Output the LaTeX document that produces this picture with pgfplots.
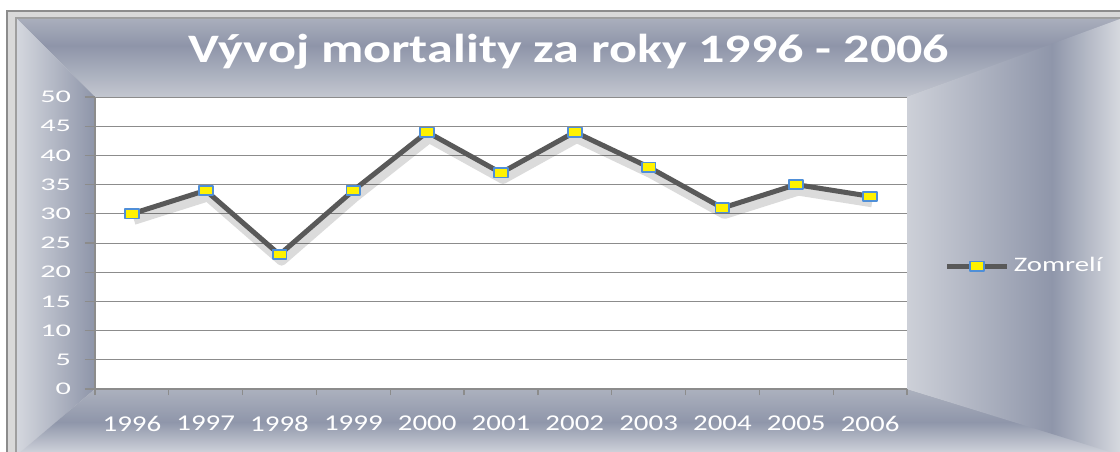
\documentclass[border=0pt]{standalone}
\usepackage{fontspec}
\setmainfont{Carlito}
\newfontfamily\titlefont{Carlito}[FakeStretch=1.29]
\newfontfamily\xfont{Carlito}[FakeStretch=1.28]
\newfontfamily\yfont{Carlito}[FakeStretch=1.7]
\newfontfamily\legfont{Carlito}[FakeStretch=1.4]
\usepackage{pgfplots}
\usepackage{pgfplotstable}
\pgfplotsset{compat=1.18}

\definecolor{linegray}{HTML}{595959}
\definecolor{markblue}{HTML}{4F8FD8}
\definecolor{gridgray}{HTML}{8C8C8C}
\definecolor{tb1}{HTML}{C3C7D0}
\definecolor{tb2}{HTML}{8E95A9}
\definecolor{tb3}{HTML}{A9AEBC}
\definecolor{lb1}{HTML}{D4D7DE}
\definecolor{lb2}{HTML}{8E95A9}
\definecolor{bb1}{HTML}{D4D7DE}
\definecolor{bb2}{HTML}{8F96AA}
\definecolor{bb3}{HTML}{ACB1BE}
\definecolor{rb1}{HTML}{CDD0D8}
\definecolor{rb2}{HTML}{8F96AA}
\definecolor{rb3}{HTML}{D6D9DF}

\pgfdeclareverticalshading{topband}{100bp}{color(0bp)=(tb1); color(25bp)=(tb1); color(58bp)=(tb2); color(75bp)=(tb3); color(100bp)=(tb3)}
\pgfdeclarehorizontalshading{leftband}{100bp}{color(0bp)=(lb1); color(25bp)=(lb1); color(75bp)=(lb2); color(100bp)=(lb2)}
\pgfdeclareverticalshading{bottomband}{100bp}{color(0bp)=(bb1); color(25bp)=(bb1); color(50bp)=(bb2); color(75bp)=(bb3); color(100bp)=(bb3)}
\pgfdeclarehorizontalshading{rightband}{100bp}{color(0bp)=(rb1); color(25bp)=(rb1); color(59bp)=(rb2); color(75bp)=(rb3); color(100bp)=(rb3)}

\pgfplotstableread{
x year val
0 1996 30
1 1997 34
2 1998 23
3 1999 34
4 2000 44
5 2001 37
6 2002 44
7 2003 38
8 2004 31
9 2005 35
10 2006 33
}\mortality

\begin{document}
\begin{tikzpicture}
\clip (0,0) rectangle (560pt,225.5pt);
% frame and bevelled background, in pixel units of the reference
\begin{scope}[x=0.5pt,y=-0.5pt,shift={(0,225.5pt)}]
  \fill[white] (0,0) rectangle (1120,451);
  \fill[gray!30] (6,10) rectangle (1125,460);
  \draw[gray!90,line width=1pt] (7,11) rectangle (1125,460);
  \draw[gray!75,line width=1.2pt] (16,18) rectangle (1125,460);
  \shade[shading=topband] (17,19) -- (1125,19) -- (907,97) -- (95,97) -- cycle;
  \shade[shading=leftband] (17,19) -- (95,97) -- (95,389) -- (17,455) -- cycle;
  \shade[shading=bottomband] (17,455) -- (95,389) -- (907,389) -- (1125,455) -- cycle;
  \shade[shading=rightband] (1120,19) -- (907,97) -- (907,389) -- (1120,455) -- cycle;
  \node[anchor=base,text=white,font=\titlefont\bfseries\fontsize{20.2}{24}\selectfont] at (569,63) {Vývoj mortality za roky 1996 - 2006};
\end{scope}
\begin{axis}[
  at={(47.5pt,31pt)}, anchor=south west,
  scale only axis, width=406pt, height=146pt,
  xmin=-0.5, xmax=10.5, ymin=0, ymax=50,
  axis x line*=bottom, axis y line*=left,
  axis line style={draw=gridgray,line width=0.6pt},
  axis background/.style={fill=white},
  xtick={0,...,10},
  xticklabels from table={\mortality}{year},
  major x tick style={draw=none},
  minor xtick={-0.5,0.5,...,10.5},
  minor tick length=3pt,
  ytick={0,5,...,50},
  major tick length=5pt,
  tick align=outside,
  tick style={draw=gridgray,line width=0.6pt},
  ymajorgrids,
  grid style={draw=gridgray,line width=0.5pt},
  /pgf/number format/assume math mode=true,
  xticklabel style={font=\xfont\fontsize{11.3}{12}\selectfont,text=white,yshift=-5pt},
  yticklabel style={font=\yfont\fontsize{8.9}{10}\selectfont,text=white,xshift=-3.5pt},
  legend style={at={(1.046,0.421)},anchor=west,draw=none,fill=none,
    font=\legfont\fontsize{10.3}{12}\selectfont,text=white,inner sep=0pt},
  legend cell align=left,
  legend image code/.code={\draw[mark repeat=2,mark phase=2] plot coordinates {(0pt,0pt) (15pt,0pt) (30pt,0pt)};},
]
\addplot[forget plot,mark=none,color=black,opacity=0.14,line width=5pt,line join=round,
  transform canvas={xshift=1pt,yshift=-3pt}] table[x=x,y=val]{\mortality};
\addplot[color=linegray,line width=2.5pt,line join=round,mark=square*,mark size=2.3pt,
  mark options={fill=yellow,draw=markblue,line width=0.9pt,xscale=1.5,solid}] table[x=x,y=val]{\mortality};
\addlegendentry{Zomrelí}
\end{axis}
\end{tikzpicture}
\end{document}
